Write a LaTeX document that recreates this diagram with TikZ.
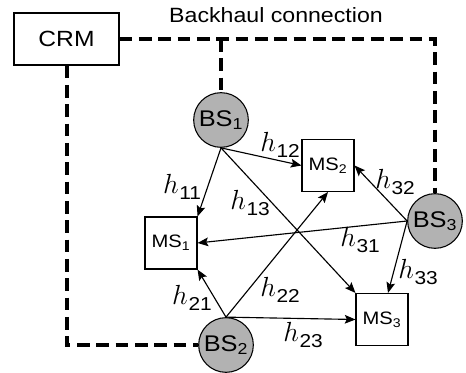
\documentclass[tikz,border=0pt]{standalone}
\usepackage{fontspec}
\setmainfont[FakeStretch=1.12]{Liberation Sans}
\usetikzlibrary{arrows.meta,calc}
\newcommand{\hh}[1]{\fontsize{21}{21}\selectfont$h$\hspace{0.5pt}\raisebox{-4pt}{\fontsize{14}{14}\selectfont #1}}
\begin{document}
\begin{tikzpicture}[x=0.75pt,y=-0.75pt,
  ms/.style={draw,line width=0.8pt,minimum width=39pt,minimum height=39pt,inner sep=0pt,font=\fontsize{13.5}{13.5}\selectfont},
  bs/.style={circle,draw,line width=0.8pt,fill=black!30,minimum size=41pt,inner sep=0pt,font=\fontsize{17}{17}\selectfont},
  link/.style={line width=0.85pt,-{Stealth[length=8pt,width=6.5pt,inset=1.5pt]}},
  bh/.style={line width=3pt,dash pattern=on 9.5pt off 5pt},
  lab/.style={inner sep=0pt}]
\useasboundingbox (0,0) rectangle (466,373);
\node[draw,line width=0.8pt,minimum width=78.75pt,minimum height=39pt,inner sep=0pt] (crm) at (66.5,39) {\fontsize{16.5}{16.5}\selectfont CRM};
\node[inner sep=0pt] (title) at (276,15) {\fontsize{15.5}{15.5}\selectfont Backhaul connection};
\node[ms] (ms1) at (171,243) {MS\textsubscript{1}};
\node[ms] (ms2) at (328,165.5) {MS\textsubscript{2}};
\node[ms] (ms3) at (382,319.5) {MS\textsubscript{3}};
\node[bs] (bs1) at (221,120) {BS\textsubscript{1}};
\node[bs] (bs2) at (226,345) {BS\textsubscript{2}};
\node[bs] (bs3) at (435,221) {BS\textsubscript{3}};
% backhaul
\coordinate (j) at (bs1.north |- crm.east);
\draw[bh] (crm.east) -| (bs3.north);
\draw[bh] (j) -- (bs1.north);
\draw[bh] (crm.south) |- (bs2.west);
% links
\draw[link] (bs1.south) -- (ms1.north east);
\draw[link] (bs1.south) -- (ms2.west);
\draw[link] (bs1.south) -- (ms3.north west);
\draw[link] (bs2.north) -- (ms1.south east);
\draw[link] (bs2.north) -- (ms2.south);
\draw[link] (bs2.north) -- (ms3.west);
\draw[link] (bs3.west) -- (ms1.east);
\draw[link] (bs3.west) -- (ms2.east);
\draw[link] (bs3.west) -- ([xshift=4.5pt]ms3.north);
% labels
\node[lab] (l11) at (182,187) {\hh{11}};
\node[lab] (l12) at (280,145) {\hh{12}};
\node[lab] (l13) at (250,203) {\hh{13}};
\node[lab] (l21) at (192,298) {\hh{21}};
\node[lab] (l22) at (280,290) {\hh{22}};
\node[lab] (l23) at (303,335) {\hh{23}};
\node[lab] (l31) at (360,240) {\hh{31}};
\node[lab] (l32) at (395,182) {\hh{32}};
\node[lab] (l33) at (418,272) {\hh{33}};
\end{tikzpicture}
\end{document}
